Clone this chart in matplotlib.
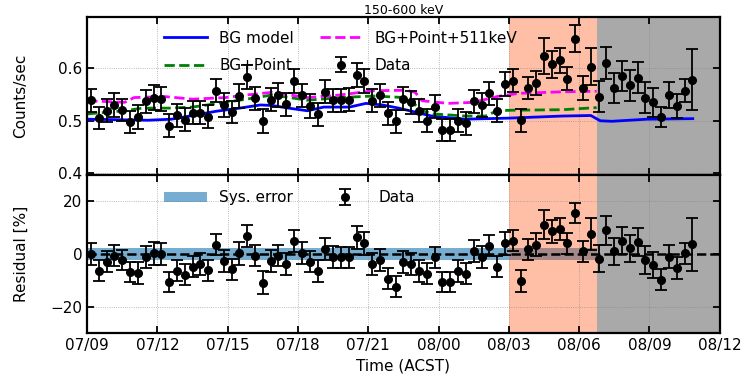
import numpy as np
import matplotlib

matplotlib.use("Agg")
import matplotlib.pyplot as plt

# 8-hour bins starting 07/09 00:00 (x axis in days since 07/09)
n_bins = 78
bin_days = 1.0 / 3.0
t = np.arange(n_bins) * bin_days + bin_days / 2

tick_pos = [0, 3, 6, 9, 12, 15, 18, 21, 24, 27]
tick_labels = ["07/09", "07/12", "07/15", "07/18", "07/21",
               "08/00", "08/03", "08/06", "08/09", "08/12"]

counts = [
    0.539, 0.505, 0.519, 0.530, 0.520, 0.497, 0.507, 0.537, 0.544, 0.541,
    0.491, 0.510, 0.502, 0.515, 0.515, 0.508, 0.557, 0.530, 0.517, 0.547,
    0.583, 0.543, 0.499, 0.540, 0.549, 0.531, 0.576, 0.548, 0.528, 0.512,
    0.555, 0.539, 0.539, 0.540, 0.587, 0.576, 0.538, 0.548, 0.514, 0.499,
    0.542, 0.535, 0.519, 0.500, 0.527, 0.482, 0.482, 0.500, 0.495, 0.537,
    0.530, 0.552, 0.519, 0.570, 0.576, 0.501, 0.562, 0.571, 0.623, 0.607,
    0.615, 0.580, 0.656, 0.562, 0.603, 0.546, 0.610, 0.562, 0.585, 0.567,
    0.582, 0.544, 0.535, 0.507, 0.549, 0.528, 0.557, 0.578,
]
counts_err = [
    0.022, 0.021, 0.022, 0.022, 0.021, 0.021, 0.022, 0.022, 0.023, 0.023,
    0.021, 0.021, 0.022, 0.022, 0.022, 0.021, 0.022, 0.022, 0.021, 0.023,
    0.022, 0.022, 0.023, 0.022, 0.022, 0.022, 0.023, 0.022, 0.022, 0.022,
    0.022, 0.022, 0.022, 0.022, 0.023, 0.023, 0.022, 0.022, 0.022, 0.022,
    0.022, 0.022, 0.022, 0.022, 0.022, 0.021, 0.021, 0.022, 0.022, 0.022,
    0.022, 0.022, 0.022, 0.023, 0.022, 0.022, 0.021, 0.023, 0.034, 0.025,
    0.024, 0.022, 0.026, 0.023, 0.036, 0.029, 0.031, 0.028, 0.029, 0.029,
    0.030, 0.029, 0.028, 0.019, 0.024, 0.022, 0.022, 0.058,
]

resid = [
    0.0, -6.3, -2.9, -0.6, -2.2, -6.9, -7.3, -1.2, 0.3, 0.0,
    -10.7, -6.3, -7.8, -4.8, -3.7, -6.2, 3.6, -2.6, -5.8, 0.3,
    6.8, -0.6, -10.9, -2.6, -0.6, -3.9, 5.0, 0.4, -2.9, -6.4,
    2.0, -1.2, -1.3, -1.3, 6.3, 4.0, -3.7, -2.3, -9.3, -12.4,
    -3.1, -3.9, -6.4, -7.4, -1.3, -10.6, -10.6, -6.4, -7.4, 1.2,
    -1.1, 3.2, -4.8, 4.1, 5.1, -10.2, 1.8, 3.6, 11.1, 8.6,
    9.6, 4.0, 15.4, 1.0, 7.7, -1.8, 9.0, 1.0, 5.1, 2.1,
    4.5, -2.3, -4.1, -9.7, -1.0, -5.3, 0.2, 3.7,
]
resid_err = [
    4.1, 3.9, 4.1, 4.1, 3.9, 3.9, 4.1, 4.1, 4.3, 4.3,
    3.9, 3.9, 4.1, 4.1, 4.1, 3.9, 4.1, 4.1, 3.9, 4.3,
    4.1, 4.1, 4.3, 4.1, 4.1, 4.1, 4.3, 4.1, 4.1, 4.1,
    4.1, 4.1, 4.1, 4.1, 4.3, 4.3, 4.1, 4.1, 4.1, 4.1,
    4.1, 4.1, 4.1, 4.1, 4.1, 3.9, 3.9, 4.1, 4.1, 4.1,
    4.1, 4.1, 4.1, 4.3, 4.1, 4.1, 3.9, 4.3, 5.5, 4.4,
    4.2, 3.9, 3.8, 4.1, 6.0, 5.2, 5.4, 5.0, 5.2, 5.2,
    5.3, 5.2, 5.0, 4.1, 4.4, 4.0, 4.0, 10.0,
]

bg_t = [0, 2.6, 3.6, 4.5, 5.5, 6.5, 7.4, 7.9, 8.6, 9.4, 10.1, 11.2,
        11.9, 12.6, 13.3, 14.7, 16.1, 18.0, 20.3, 21.5, 21.9, 22.4, 23.9, 25.85]
bg_v = [0.503, 0.501, 0.503, 0.510, 0.518, 0.524, 0.530, 0.529, 0.524, 0.519,
        0.526, 0.526, 0.533, 0.530, 0.524, 0.509, 0.503, 0.505, 0.509, 0.510,
        0.500, 0.499, 0.503, 0.504]

pt_t = [0, 1.6, 2.35, 3.5, 4.5, 5.9, 6.8, 7.9, 9.4, 10.8, 12.2, 13.6,
        13.8, 14.2, 14.8, 16.1, 17.0, 17.5, 18.1, 20.3, 21.75]
pt_v = [0.513, 0.519, 0.524, 0.524, 0.526, 0.535, 0.541, 0.549, 0.539, 0.544,
        0.547, 0.544, 0.541, 0.520, 0.513, 0.509, 0.509, 0.519, 0.520, 0.521,
        0.525]

pt511_t = [0, 1.6, 2.0, 3.3, 4.5, 5.9, 6.8, 7.9, 9.4, 10.8, 12.2, 13.6,
           14.0, 14.3, 15.4, 16.5, 17.5, 18.4, 20.3, 21.75]
pt511_v = [0.538, 0.535, 0.544, 0.546, 0.541, 0.544, 0.549, 0.554, 0.544, 0.549,
           0.557, 0.558, 0.554, 0.538, 0.533, 0.535, 0.546, 0.552, 0.555, 0.556]

sys_err = 2.1          # percent
sys_end = 21.75
flare_span = (18.0, 21.75)
after_span = (21.75, 27.0)

plt.rcParams["font.size"] = 11

fig, (ax1, ax2) = plt.subplots(2, 1, sharex=True, figsize=(7.45, 3.78), dpi=100)
fig.subplots_adjust(left=0.117, right=0.966, top=0.955, bottom=0.119, hspace=0)

err_kw = dict(fmt="o", color="black", ms=5.5, capsize=4, elinewidth=1.3,
              capthick=1.3, zorder=4)

# --- top: count rate ---
ax1.axvspan(*flare_span, color="orangered", alpha=0.35, lw=0, zorder=0)
ax1.axvspan(*after_span, color="darkgray", lw=0, zorder=0)
ax1.plot(bg_t, bg_v, color="blue", lw=2, label="BG model")
ax1.plot(pt_t, pt_v, color="green", lw=2, ls="--", label="BG+Point")
ax1.plot(pt511_t, pt511_v, color="magenta", lw=2, ls="--", label="BG+Point+511keV")
ax1.errorbar(t, counts, yerr=counts_err, label="Data", **err_kw)
ax1.set_ylim(0.397, 0.697)
ax1.set_yticks([0.4, 0.5, 0.6])
ax1.set_ylabel("Counts/sec")
ax1.set_title("150-600 keV", fontsize=9, pad=1)
ax1.legend(loc="upper left", bbox_to_anchor=(0.1, 1.0), ncol=2, frameon=False,
           handlelength=2.8, columnspacing=1.7, labelspacing=0.8)

# --- bottom: residual ---
ax2.fill_between([0, sys_end], -sys_err, sys_err, color="C0", alpha=0.6,
                 lw=0, label="Sys. error", zorder=0)
ax2.axvspan(*flare_span, color="orangered", alpha=0.35, lw=0, zorder=0)
ax2.axvspan(*after_span, color="darkgray", lw=0, zorder=0)
ax2.axhline(0, color="black", ls="--", lw=1.8, zorder=3)
ax2.errorbar(t, resid, yerr=resid_err, label="Data", **err_kw)
ax2.set_ylim(-30, 30)
ax2.set_yticks([-20, 0, 20])
ax2.set_ylabel("Residual [%]")
ax2.set_xlabel("Time (ACST)")
ax2.legend(loc="upper left", bbox_to_anchor=(0.1, 0.99), ncol=2, frameon=False,
           handlelength=2.8, columnspacing=2.0)

ax2.set_xlim(0, 27)
ax2.set_xticks(tick_pos)
ax2.set_xticklabels(tick_labels)

for ax in (ax1, ax2):
    ax.grid(True, ls=":", color="gray", lw=0.6, alpha=0.7)
    ax.tick_params(direction="in", top=True, right=True, length=5, width=1.3)
    ax.yaxis.set_label_coords(-0.093, 0.5)
    for sp in ax.spines.values():
        sp.set_linewidth(1.6)

fig.savefig("out.png", dpi=100)
